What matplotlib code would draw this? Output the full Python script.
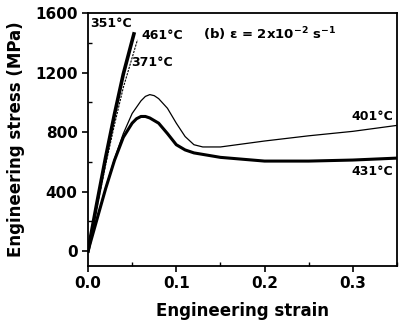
import numpy as np
import matplotlib
matplotlib.use("Agg")
import matplotlib.pyplot as plt
from matplotlib.ticker import MultipleLocator

plt.rcParams["font.family"] = "DejaVu Sans"
plt.rcParams["font.weight"] = "bold"
plt.rcParams["mathtext.default"] = "bf"

# stress-strain curves
strain_351 = [0, 0.01, 0.02, 0.03, 0.04, 0.052]
stress_351 = [0, 320, 630, 920, 1190, 1460]

strain_461 = [0, 0.01, 0.02, 0.03, 0.04, 0.056]
stress_461 = [0, 290, 580, 850, 1100, 1420]

strain_401 = [0, 0.01, 0.02, 0.03, 0.04, 0.05, 0.06, 0.065, 0.07, 0.075, 0.08, 0.09,
              0.10, 0.11, 0.12, 0.13, 0.15, 0.2, 0.25, 0.3, 0.35]
stress_401 = [0, 215, 425, 620, 790, 925, 1010, 1040, 1052, 1045, 1025, 960,
              860, 770, 715, 700, 700, 740, 775, 805, 845]

strain_431 = [0, 0.01, 0.02, 0.03, 0.04, 0.05, 0.055, 0.06, 0.065, 0.07, 0.08, 0.09,
              0.10, 0.11, 0.12, 0.13, 0.15, 0.2, 0.25, 0.3, 0.35]
stress_431 = [0, 210, 420, 610, 765, 860, 890, 905, 905, 895, 860, 790,
              715, 680, 660, 650, 630, 605, 605, 612, 625]

fig = plt.figure(figsize=(4, 3.2), dpi=100)
ax = fig.add_axes([0.22, 0.169, 0.7725, 0.79])

ax.plot(strain_351, stress_351, color="black", lw=2.6)
ax.plot(strain_461, stress_461, color="black", lw=0.8, ls=(0, (2, 1)))
ax.plot(strain_401, stress_401, color="black", lw=0.9)
ax.plot(strain_431, stress_431, color="black", lw=2.2)

ax.set_xlim(0, 0.35)
ax.set_ylim(-100, 1600)
ax.set_xticks([0.0, 0.1, 0.2, 0.3])
ax.set_yticks([0, 400, 800, 1200, 1600])
ax.xaxis.set_minor_locator(MultipleLocator(0.05))
ax.yaxis.set_minor_locator(MultipleLocator(200))
ax.tick_params(which="major", direction="out", length=4, width=1.2, labelsize=11)
ax.tick_params(which="minor", direction="in", length=3, width=1)
for s in ax.spines.values():
    s.set_linewidth(1.3)

ax.set_xlabel("Engineering strain", fontsize=12, fontweight="bold", labelpad=8)
ax.set_ylabel("Engineering stress (MPa)", fontsize=12, fontweight="bold", labelpad=7)

ax.text(0.002, 1530, "351°C", fontsize=9, fontweight="bold", va="center")
ax.text(0.06, 1450, "461°C", fontsize=9, fontweight="bold", va="center")
ax.text(0.049, 1265, "371°C", fontsize=9, fontweight="bold", va="center")
ax.text(0.13, 1460, r"(b) ε = 2x10$^{-2}$ s$^{-1}$", fontsize=9.5, fontweight="bold", va="center")
ax.text(0.346, 905, "401°C", fontsize=9, fontweight="bold", ha="right", va="center")
ax.text(0.346, 535, "431°C", fontsize=9, fontweight="bold", ha="right", va="center")

plt.savefig("out.png", dpi=100)
